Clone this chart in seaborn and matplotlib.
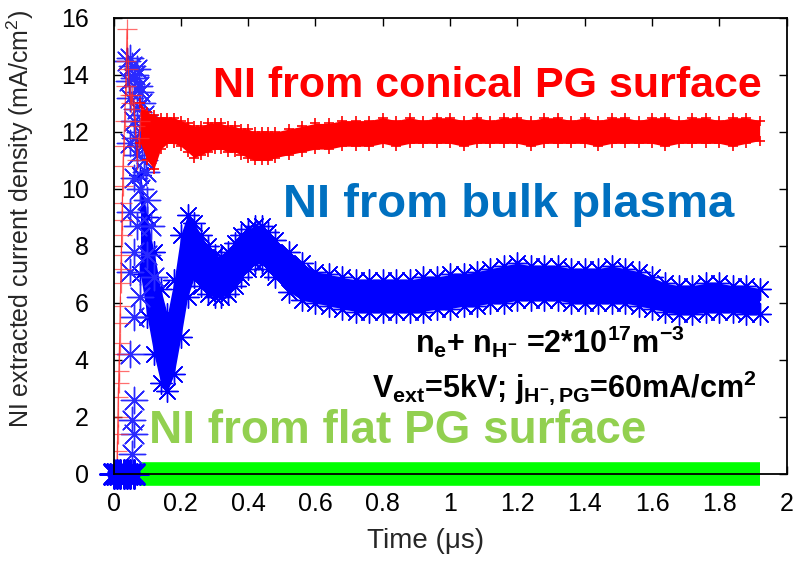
import numpy as np
import matplotlib
matplotlib.use("Agg")
import matplotlib.pyplot as plt
import seaborn as sns

# time grid of the dense part of the run (us)
t_band = [0.08, 0.10, 0.12, 0.14, 0.16, 0.18, 0.20, 0.22, 0.24, 0.26, 0.28, 0.30,
          0.32, 0.34, 0.36, 0.38, 0.40, 0.42, 0.44, 0.46, 0.48, 0.52,
          0.56, 0.60, 0.64, 0.68, 0.72, 0.76, 0.80, 0.84, 0.88, 0.92, 0.96, 1.00,
          1.04, 1.08, 1.12, 1.16, 1.20, 1.24, 1.28, 1.32, 1.36, 1.40, 1.44, 1.48,
          1.52, 1.56, 1.60, 1.64, 1.68, 1.72, 1.76, 1.80, 1.84, 1.88, 1.92]

# NI from conical PG surface (upper / lower edge of the noisy band)
red_hi = [13.0, 12.7, 12.6, 12.5, 12.5, 12.5, 12.4, 12.3, 12.2, 12.2, 12.3, 12.3,
          12.3, 12.2, 12.2, 12.1, 12.1, 12.0, 12.0, 12.0, 12.0, 12.1,
          12.2, 12.3, 12.3, 12.4, 12.4, 12.4, 12.5, 12.4, 12.5, 12.4, 12.5, 12.5,
          12.4, 12.5, 12.4, 12.5, 12.5, 12.4, 12.5, 12.5, 12.4, 12.5, 12.4, 12.5,
          12.5, 12.4, 12.5, 12.5, 12.4, 12.5, 12.5, 12.4, 12.5, 12.5, 12.4]
red_lo = [11.6, 11.0, 10.7, 11.4, 11.6, 11.6, 11.5, 11.3, 11.1, 11.2, 11.3, 11.4,
          11.4, 11.3, 11.3, 11.2, 11.1, 11.0, 11.0, 11.0, 11.1, 11.2,
          11.3, 11.4, 11.4, 11.5, 11.5, 11.5, 11.6, 11.5, 11.6, 11.6, 11.6, 11.6,
          11.5, 11.6, 11.6, 11.6, 11.6, 11.5, 11.6, 11.6, 11.6, 11.6, 11.5, 11.6,
          11.6, 11.6, 11.6, 11.5, 11.6, 11.6, 11.6, 11.6, 11.5, 11.6, 11.7]

# NI from bulk plasma
blue_hi = [10.5, 9.0, 7.8, 6.5, 5.6, 6.8, 8.4, 9.1, 8.8, 8.4, 8.0, 7.7,
           7.6, 7.8, 8.1, 8.4, 8.6, 8.7, 8.7, 8.5, 8.2, 7.8,
           7.4, 7.1, 7.0, 6.9, 6.8, 6.8, 6.8, 6.8, 6.8, 6.9, 6.9, 7.0,
           7.0, 7.1, 7.2, 7.3, 7.4, 7.3, 7.3, 7.3, 7.2, 7.2, 7.2, 7.3,
           7.2, 7.1, 6.9, 6.7, 6.6, 6.6, 6.7, 6.7, 6.6, 6.6, 6.5]
blue_lo = [7.0, 5.5, 4.2, 3.2, 2.9, 3.5, 4.8, 6.2, 6.9, 6.6, 6.3, 6.2,
           6.2, 6.3, 6.6, 6.9, 7.2, 7.4, 7.4, 7.2, 6.9, 6.4,
           6.1, 6.0, 5.9, 5.8, 5.7, 5.7, 5.7, 5.7, 5.7, 5.7, 5.8, 5.8,
           5.9, 5.9, 6.0, 6.0, 6.1, 6.1, 6.1, 6.1, 6.0, 6.0, 6.0, 6.0,
           6.0, 5.9, 5.8, 5.7, 5.6, 5.6, 5.7, 5.7, 5.7, 5.6, 5.6]

# NI from flat PG surface
green_t = [0.08, 0.16, 0.24, 0.32, 0.40, 0.48, 0.56, 0.64, 0.72, 0.80, 0.88, 0.96,
           1.04, 1.12, 1.20, 1.28, 1.36, 1.44, 1.52, 1.60, 1.68, 1.76, 1.84, 1.92]
green_y = [0.0, 0.0, 0.0, 0.0, 0.0, 0.0, 0.0, 0.0, 0.0, 0.0, 0.0, 0.0,
           0.0, 0.0, 0.0, 0.0, 0.0, 0.0, 0.0, 0.0, 0.0, 0.0, 0.0, 0.0]

# start-up transient
red_early_t = [0.010, 0.011, 0.012, 0.013, 0.014, 0.015, 0.016, 0.017, 0.018, 0.019,
               0.020, 0.021, 0.022, 0.023, 0.024, 0.025, 0.026, 0.027, 0.028, 0.030,
               0.033, 0.036, 0.038, 0.040, 0.044, 0.048, 0.052, 0.056, 0.060, 0.065,
               0.070, 0.075, 0.080]
red_early_y = [0.0, 0.8, 1.4, 2.0, 2.7, 3.2, 3.6, 4.2, 4.6, 5.3,
               5.9, 6.7, 7.2, 7.7, 8.4, 8.9, 9.5, 10.1, 10.8, 11.5,
               12.4, 13.6, 14.5, 15.6, 14.2, 13.3, 13.0, 13.3, 12.8, 12.2,
               11.0, 11.8, 12.4]
blue_early_t = [0.055, 0.065, 0.075, 0.045, 0.085, 0.050, 0.070, 0.060, 0.080, 0.065,
                0.050, 0.070, 0.090, 0.060, 0.080, 0.100, 0.050, 0.070, 0.110, 0.060,
                0.100, 0.050, 0.120, 0.080, 0.060, 0.050, 0.060, 0.055, 0.060, 0.055,
                0.040, 0.050, 0.060, 0.070, 0.080, 0.090, 0.100, 0.085, 0.095]
blue_early_y = [14.3, 14.0, 13.6, 13.8, 13.0, 13.2, 12.8, 12.4, 12.0, 11.8,
                11.6, 11.2, 11.0, 10.4, 10.0, 9.6, 9.2, 8.7, 8.7, 7.8,
                7.7, 7.1, 6.9, 6.2, 5.5, 4.2, 2.6, 1.9, 1.4, 0.7,
                14.5, 14.6, 13.9, 14.2, 13.4, 12.6, 12.2, 11.5, 10.6]
blue_zero_t = [0.0, 0.01, 0.02, 0.03, 0.04, 0.05, 0.06]
blue_zero_y = [0.0, 0.0, 0.0, 0.0, 0.0, 0.0, 0.0]

x_ticks = [0, 0.2, 0.4, 0.6, 0.8, 1.0, 1.2, 1.4, 1.6, 1.8, 2.0]
x_tick_labels = ["0", "0.2", "0.4", "0.6", "0.8", "1", "1.2", "1.4", "1.6", "1.8", "2"]
y_ticks = [0, 2, 4, 6, 8, 10, 12, 14, 16]

sns.set_theme(style="ticks")
plt.rcParams["font.family"] = ["Liberation Sans", "DejaVu Sans"]
plt.rcParams["mathtext.fontset"] = "custom"
plt.rcParams["mathtext.rm"] = "Liberation Sans"
plt.rcParams["mathtext.it"] = "Liberation Sans:italic"
plt.rcParams["mathtext.bf"] = "Liberation Sans:bold"
plt.rcParams["mathtext.sf"] = "Liberation Sans"

fig = plt.figure(figsize=(7.97, 5.69), dpi=100)
ax = fig.add_axes([0.1425, 0.167, 0.8444, 0.8014])

ast = (8, 2, 0)
blue = "#0000ff"
red = "#ff0000"
green = "#00ff00"

# bulk plasma
ax.fill_between(t_band, blue_lo, blue_hi, color=blue, lw=0, zorder=2)
sns.scatterplot(x=t_band, y=blue_hi, marker=ast, color=blue, s=240, linewidth=1, ax=ax, zorder=2)
sns.scatterplot(x=t_band, y=blue_lo, marker=ast, color=blue, s=240, linewidth=1, ax=ax, zorder=2)
sns.scatterplot(x=blue_early_t, y=blue_early_y, marker=ast, color="#2a2aff", s=360,
                linewidth=1, ax=ax, zorder=2)
ax.plot(blue_zero_t, blue_zero_y, color=blue, lw=10, clip_on=False, zorder=3)
sns.scatterplot(x=blue_zero_t, y=blue_zero_y, marker=ast, color=blue, s=400,
                linewidth=2, ax=ax, clip_on=False, zorder=3)

# conical PG surface
ax.fill_between(t_band, red_lo, red_hi, color=red, lw=0, zorder=2.1)
sns.scatterplot(x=t_band, y=red_hi, marker="+", color=red, s=50, linewidth=1.2, ax=ax, zorder=2.1)
sns.scatterplot(x=t_band, y=red_lo, marker="+", color=red, s=50, linewidth=1.2, ax=ax, zorder=2.1)
ax.plot(red_early_t, red_early_y, color=red, lw=0.8, alpha=0.7, zorder=2.2)
sns.scatterplot(x=red_early_t, y=red_early_y, marker="+", color="#ff3030", s=220,
                linewidth=0.9, alpha=0.7, ax=ax, zorder=2.2)

# flat PG surface
ax.plot(green_t, green_y, color=green, lw=17, solid_capstyle="butt", clip_on=False, zorder=1.8)

ax.set_xlim(0, 2)
ax.set_ylim(0, 16)
ax.set_xticks(x_ticks)
ax.set_xticklabels(x_tick_labels)
ax.set_yticks(y_ticks)
ax.tick_params(direction="in", length=6, width=1, top=True, right=True,
               labelsize=18, colors="black")
ax.tick_params(axis="x", pad=13)
ax.tick_params(axis="y", pad=18)
for sp in ax.spines.values():
    sp.set_linewidth(1.3)
    sp.set_color("black")
    sp.set_zorder(4)

ax.set_xlabel("Time (\u03bcs)", fontsize=20)
ax.set_ylabel("NI extracted current density (mA/cm$^2$)", fontsize=18)
ax.xaxis.set_label_coords(0.464, -0.118)
ax.yaxis.set_label_coords(-0.115, 0.56)

ax.text(1.111, 13.23, "NI from conical PG surface", color="#ff0000", fontsize=31,
        fontweight="bold", ha="center", va="baseline")
ax.text(1.174, 9.0, "NI from bulk plasma", color="#0070c0", fontsize=34,
        fontweight="bold", ha="center", va="baseline")
ax.text(0.844, 1.09, "NI from flat PG surface", color="#92d050", fontsize=33,
        fontweight="bold", ha="center", va="baseline")
line1 = (r"n$_\mathbf{e}$+ n$_{\mathbf{H}^{\mathbf{-}}}$ =2*10$^{\mathbf{17}}$"
         r"m$^{\mathbf{-3}}$")
line2 = (r"V$_\mathbf{ext}$=5kV; j$_{\mathbf{H}^{\mathbf{-}}\mathbf{,PG}}$"
         r"=60mA/cm$^\mathbf{2}$")
ax.text(1.295, 4.25, line1, color="black", fontsize=22, fontweight="bold",
        ha="center", va="baseline")
ax.text(1.341, 2.7, line2, color="black", fontsize=22, fontweight="bold",
        ha="center", va="baseline")

fig.savefig("out.png", dpi=100)
